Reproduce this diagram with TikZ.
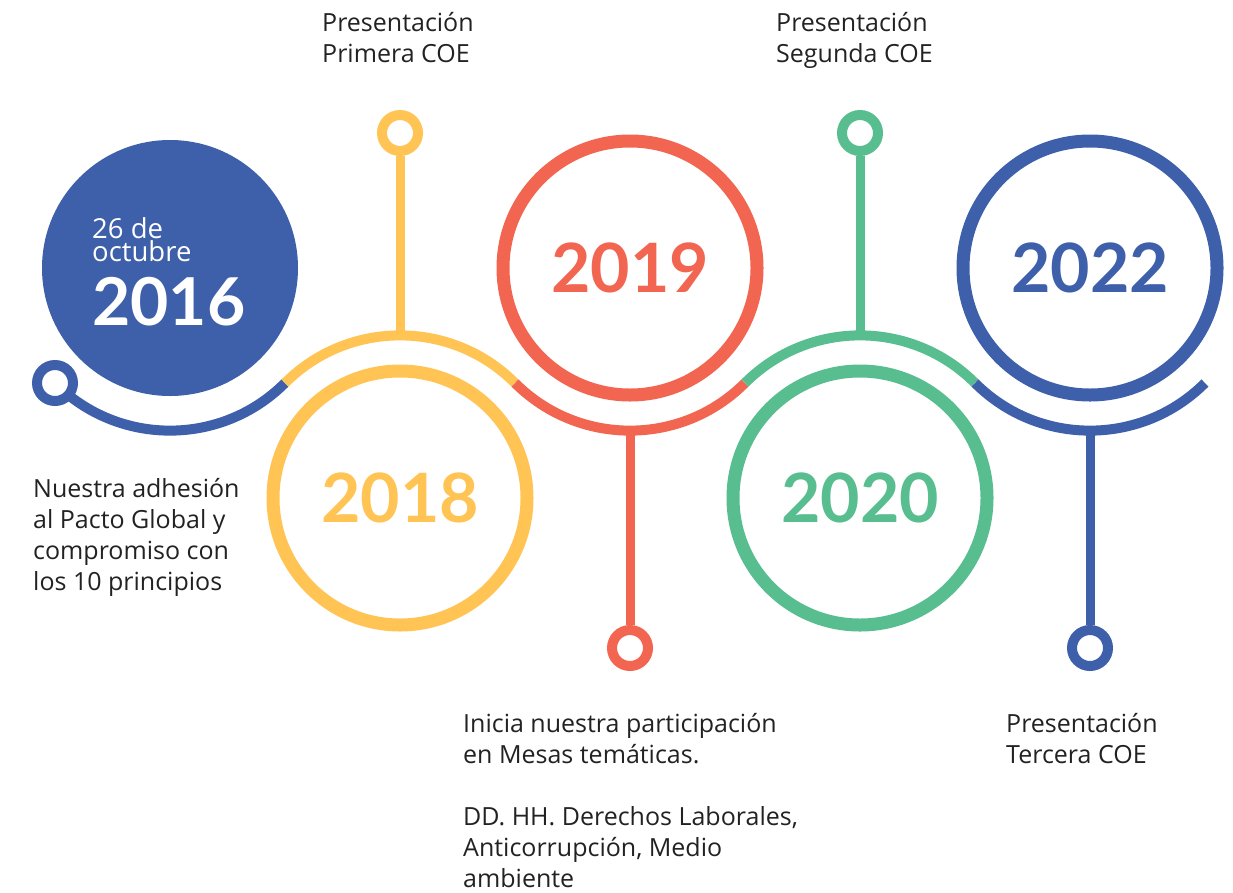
\documentclass[tikz,border=0pt]{standalone}
\usepackage{fontspec}
\setmainfont{Lato}
\newfontfamily\labelfont{Open Sans}
\definecolor{cblue}{HTML}{3E5FAA}
\definecolor{cyellow}{HTML}{FFC454}
\definecolor{cred}{HTML}{F26550}
\definecolor{cgreen}{HTML}{58BE8F}
\definecolor{ctext}{HTML}{222222}
\begin{document}
\begin{tikzpicture}[x=1pt,y=-1pt,
  wave/.style={line width=10pt,line cap=butt},
  stem/.style={line width=9pt},
  ringnode/.style={circle,line width=10pt,minimum size=36pt,inner sep=0pt,fill=white},
  yearring/.style={circle,line width=13pt,minimum size=254pt,inner sep=0pt,font=\fontsize{68}{68}\selectfont\bfseries},
  label/.style={anchor=base west,align=left,inner sep=0pt,text=ctext,font=\labelfont\fontsize{25}{31}\selectfont}]
\useasboundingbox (0,0) rectangle (1233,892);
% circles
\node[circle,fill=cblue,minimum size=256pt,inner sep=0pt] (c16) at (170,268) {};
\node[yearring,draw=cyellow,text=cyellow] (c18) at (400,498) {2018};
\node[yearring,draw=cred,text=cred] (c19) at (630,268) {2019};
\node[yearring,draw=cgreen,text=cgreen] (c20) at (860,498) {2020};
\node[yearring,draw=cblue,text=cblue] (c22) at (1090,268) {2022};
% wave coordinates
\coordinate (w0) at (55,383);
\coordinate (w1) at (285,383);
\coordinate (w2) at (515,383);
\coordinate (w3) at (745,383);
\coordinate (w4) at (975,383);
\coordinate (s18) at (400,335.4);
\coordinate (s19) at (630,430.6);
\coordinate (s20) at (860,335.4);
\coordinate (s22) at (1090,430.6);
% wave
\draw[wave,cblue] (w0) arc[start angle=135,end angle=45,radius=162.6];
\draw[wave,cyellow] (w1) arc[start angle=225,end angle=315,radius=162.6];
\draw[wave,cred] (w2) arc[start angle=135,end angle=45,radius=162.6];
\draw[wave,cgreen] (w3) arc[start angle=225,end angle=315,radius=162.6];
\draw[wave,cblue] (w4) arc[start angle=135,end angle=45,radius=162.6];
% rings
\node[ringnode,draw=cblue] (r16) at (w0) {};
\node[ringnode,draw=cyellow] (r18) at (400,133) {};
\node[ringnode,draw=cred] (r19) at (630,648) {};
\node[ringnode,draw=cgreen] (r20) at (860,133) {};
\node[ringnode,draw=cblue] (r22) at (1090,648) {};
% stems
\draw[stem,cyellow] (s18) -- (r18);
\draw[stem,cred] (s19) -- (r19);
\draw[stem,cgreen] (s20) -- (r20);
\draw[stem,cblue] (s22) -- (r22);
% texts in 2016
\node[anchor=base west,align=left,inner sep=0pt,text=white,font=\labelfont\fontsize{27.5}{23}\selectfont] (t16a) at (92,261) {26 de\\octubre};
\node[anchor=base west,inner sep=0pt,text=white,font=\fontsize{66}{66}\selectfont\bfseries] (t16b) at (92,325) {2016};
% labels
\node[label] (l1) at (322,62) {Presentación\\Primera COE};
\node[label] (l2) at (776,62) {Presentación\\Segunda COE};
\node[label] (l3) at (33,590) {Nuestra adhesión\\al Pacto Global y\\compromiso con\\los 10 principios};
\node[label] (l4) at (463,887) {Inicia nuestra participación\\en Mesas temáticas.\\[31pt]DD. HH. Derechos Laborales,\\Anticorrupción, Medio\\ambiente};
\node[label] (l5) at (1006,763) {Presentación\\Tercera COE};
\end{tikzpicture}
\end{document}
